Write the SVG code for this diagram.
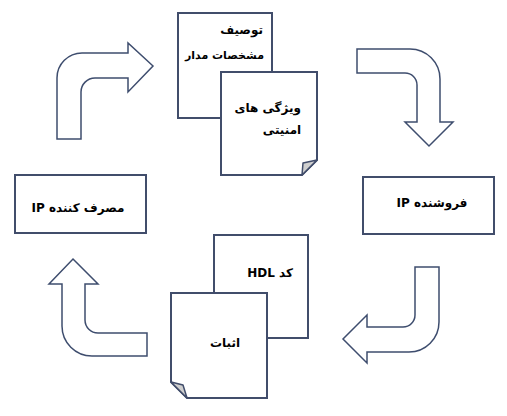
<svg xmlns="http://www.w3.org/2000/svg" width="507" height="416" viewBox="0 0 507 416">
<style>
.arrow{fill:#fff;stroke:#3e4d6e;stroke-width:1.5;stroke-linejoin:miter}
.box{fill:#fff;stroke:#414d6b;stroke-width:2}
.fold{fill:#cfcfcf;stroke:#414d6b;stroke-width:1.5;stroke-linejoin:round}
.t{font-family:"DejaVu Sans",sans-serif;font-weight:bold;font-size:12px;fill:#000}
.s{font-size:11px}
</style>
<rect width="507" height="416" fill="#fff"/>
<g id="connectors">
<path class="arrow" d="M57,139 V78 A25,25 0 0 1 82,53 H128 V43 L153,66 L128,92 V78 H95 A14,14 0 0 0 81,92 V139 Z"/>
<path class="arrow" d="M357,49 H410 A30,30 0 0 1 440,79 V122 H453 L429,146 L405,122 H417 V85 A12,12 0 0 0 405,73 H357 Z"/>
<path class="arrow" d="M415,267 H439 V322 A30,30 0 0 1 409,352 H367 V363 L343,339 L367,315 V327 H403 A12,12 0 0 0 415,315 V267 Z"/>
<path class="arrow" d="M73,259 L98,284 H85 V320 A13,13 0 0 0 98,333 H147 V356 H92 A30,30 0 0 1 62,326 V284 H49 Z"/>
</g>
<g id="node-spec">
<rect class="box" x="178" y="13" width="94" height="105"/>
<text class="t" x="263" y="34" text-anchor="end">توصیف</text>
<text class="t s" x="264" y="59" text-anchor="end">مشخصات مدار</text>
</g>
<g id="node-security">
<path class="box" d="M221,72 H317 V160 L302,175 H221 Z"/>
<path class="fold" d="M302,175 L317,160 L303,163 Z"/>
<text class="t" x="301" y="112" text-anchor="end">ویژگی های</text>
<text class="t" x="282" y="134" text-anchor="middle">امنیتی</text>
</g>
<g id="node-vendor">
<rect class="box" x="363" y="177" width="131" height="57"/>
<text class="t" x="432" y="207" text-anchor="middle">IP فروشنده</text>
</g>
<g id="node-consumer">
<rect class="box" x="15" y="175" width="131" height="58"/>
<text class="t" x="78" y="212" text-anchor="middle">IP مصرف کننده</text>
</g>
<g id="node-hdl">
<rect class="box" x="214" y="235" width="94" height="103"/>
<text class="t" x="270" y="277" text-anchor="middle">HDL کد</text>
</g>
<g id="node-proof">
<path class="box" d="M171,293 H267 V398 H187 L171,382 Z"/>
<path class="fold" d="M171,382 L187,398 L183,385 Z"/>
<text class="t" x="225" y="347" text-anchor="middle">اثبات</text>
</g>
</svg>
